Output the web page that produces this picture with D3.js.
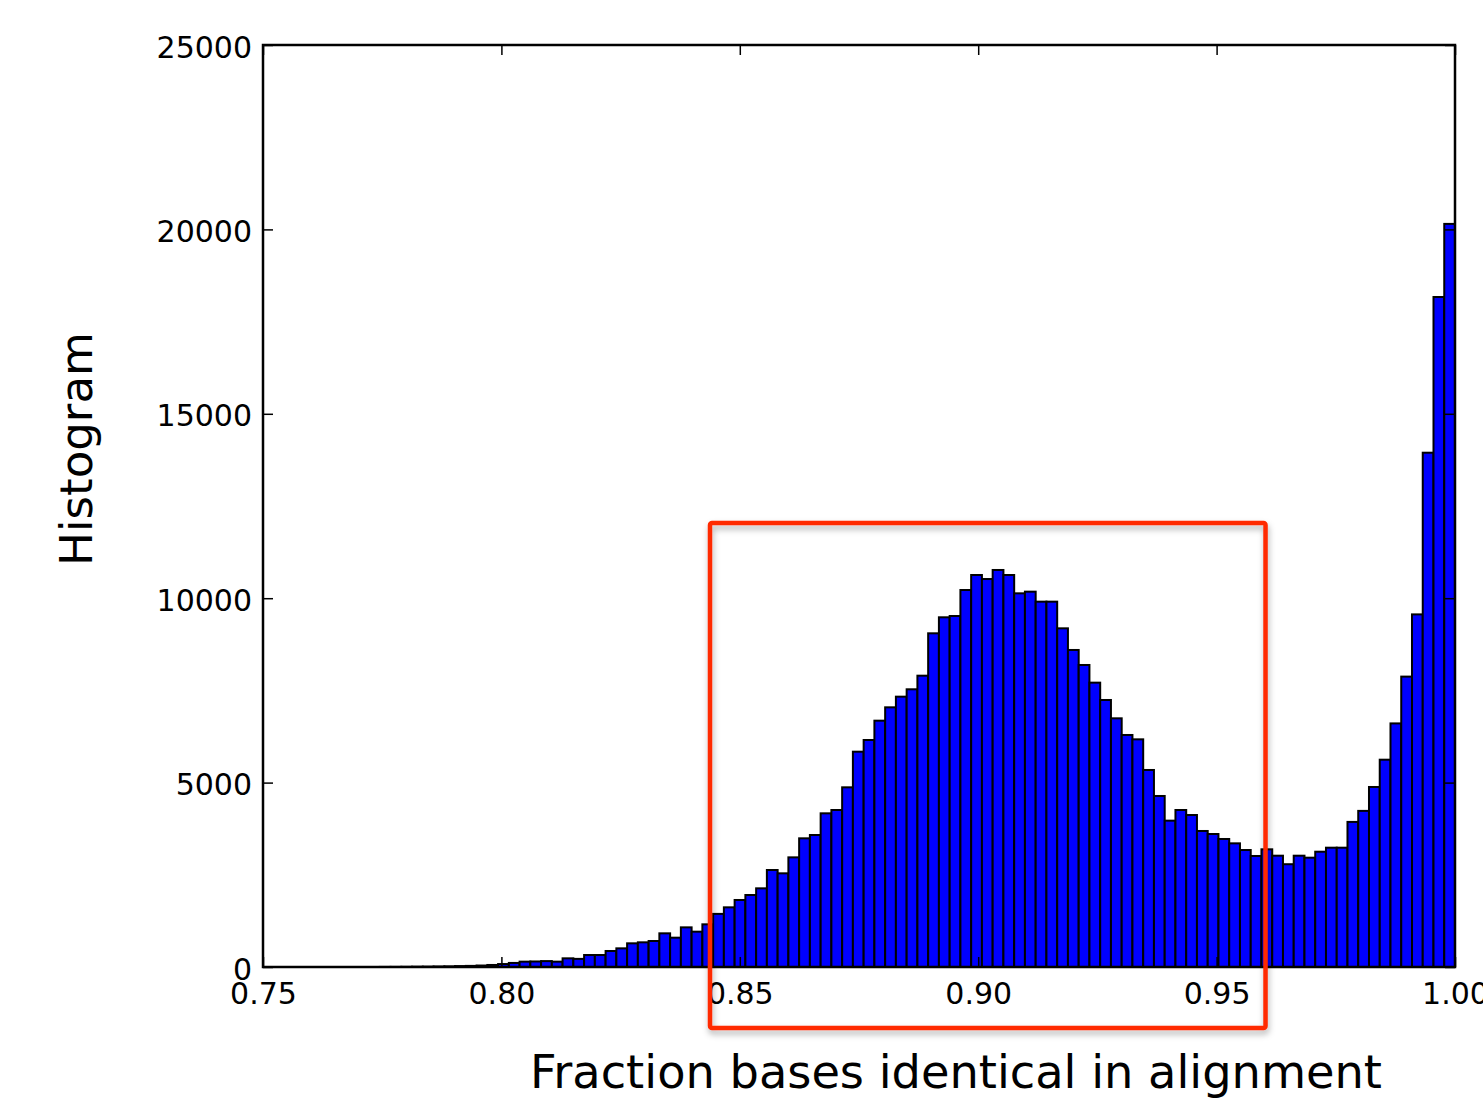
<!DOCTYPE html>
<html>
<head>
<meta charset="utf-8">
<script src="https://cdn.jsdelivr.net/npm/d3@7"></script>
<style>
  body { margin: 0; background: #fff; }
  .tick text { font-family: "DejaVu Sans", sans-serif; font-size: 30px; fill: #000; }
  .axis-label { font-family: "DejaVu Sans", sans-serif; font-size: 46px; fill: #000; }
</style>
</head>
<body>
<div id="chart"></div>
<script>
// histogram counts, 100 equal bins between binRange[0] and binRange[1]
const binRange = [0.7745, 1.0];
const counts = [
  2, 3, 5, 8, 10, 14, 18, 25, 30, 40,
  55, 80, 110, 145, 150, 160, 145, 235, 220, 325,
  325, 434, 506, 642, 669, 705, 913, 795, 1075, 958,
  1157, 1440, 1618, 1817, 1952, 2133, 2630, 2540, 2973, 3489,
  3579, 4167, 4257, 4872, 5838, 6155, 6679, 7041, 7330, 7530,
  7899, 9048, 9482, 9517, 10222, 10629, 10520, 10765, 10629, 10132,
  10177, 9906, 9906, 9183, 8596, 8189, 7710, 7240, 6743, 6291,
  6173, 5342, 4637, 3968, 4257, 4121, 3688, 3606, 3471, 3353,
  3172, 3010, 3191, 3018, 2787, 3018, 2964, 3126, 3235, 3235,
  3934, 4233, 4881, 5621, 6605, 7874, 9561, 13945, 18167, 20149
];
const xTicks = [0.75, 0.80, 0.85, 0.90, 0.95, 1.00];
const xTickLabels = ["0.75", "0.80", "0.85", "0.90", "0.95", "1.00"];
const yTicks = [0, 5000, 10000, 15000, 20000, 25000];
const yTickLabels = ["0", "5000", "10000", "15000", "20000", "25000"];
// highlighted region (red box), in data units
const highlightX = [0.84375, 0.96026];
const highlightY = [-1654, 12040];

const width = 1483,
  height = 1105,
  margin = { top: 45, right: 28, bottom: 138, left: 263 };

const svg = d3.select("#chart")
  .append("svg")
  .attr("width", width)
  .attr("height", height)
  .attr("viewBox", [0, 0, width, height]);

svg.append("rect").attr("width", width).attr("height", height).attr("fill", "#fff");

const x = d3.scaleLinear([0.75, 1.0], [margin.left, width - margin.right]);
const y = d3.scaleLinear([0, 25000], [height - margin.bottom, margin.top]);

const binW = (binRange[1] - binRange[0]) / counts.length;
const bins = counts.map((c, i) => ({ x0: binRange[0] + i * binW, x1: binRange[0] + (i + 1) * binW, n: c }));

svg.append("g")
  .selectAll("rect")
  .data(bins)
  .join("rect")
  .attr("x", d => x(d.x0))
  .attr("y", d => y(d.n))
  .attr("width", d => x(d.x1) - x(d.x0))
  .attr("height", d => y(0) - y(d.n))
  .attr("fill", "#0000ff")
  .attr("stroke", "#000")
  .attr("stroke-width", 2);

// axes, ticks point inward on all four sides
const fmtX = d => xTickLabels[xTicks.indexOf(d)];
const fmtY = d => yTickLabels[yTicks.indexOf(d)];

const bottom = svg.append("g")
  .attr("transform", `translate(0,${y(0)})`)
  .call(d3.axisBottom(x).tickValues(xTicks).tickFormat(fmtX).tickSize(-10).tickSizeOuter(0).tickPadding(14));

const left = svg.append("g")
  .attr("transform", `translate(${x(0.75)},0)`)
  .call(d3.axisLeft(y).tickValues(yTicks).tickFormat(fmtY).tickSize(-10).tickSizeOuter(0).tickPadding(11));

svg.append("g")
  .attr("transform", `translate(0,${y(25000)})`)
  .call(d3.axisTop(x).tickValues(xTicks).tickFormat("").tickSize(-10).tickSizeOuter(0));

svg.append("g")
  .attr("transform", `translate(${x(1.0)},0)`)
  .call(d3.axisRight(y).tickValues(yTicks).tickFormat("").tickSize(-10).tickSizeOuter(0));

svg.selectAll(".domain").remove();
svg.selectAll(".tick line").attr("stroke", "#000").attr("stroke-width", 1.5);
bottom.selectAll(".tick text").attr("dy", "0.75em");
left.selectAll(".tick text").attr("dy", "0.4em");

// frame
svg.append("rect")
  .attr("x", x(0.75))
  .attr("y", y(25000))
  .attr("width", x(1.0) - x(0.75))
  .attr("height", y(0) - y(25000))
  .attr("fill", "none")
  .attr("stroke", "#000")
  .attr("stroke-width", 2.5);

// axis labels
svg.append("text")
  .attr("class", "axis-label")
  .attr("text-anchor", "middle")
  .attr("x", 956)
  .attr("y", 1088)
  .attr("textLength", 852)
  .attr("lengthAdjust", "spacingAndGlyphs")
  .text("Fraction bases identical in alignment");

svg.append("text")
  .attr("class", "axis-label")
  .attr("text-anchor", "middle")
  .attr("transform", "translate(92,449) rotate(-90)")
  .style("font-size", "45px")
  .attr("textLength", 234)
  .attr("lengthAdjust", "spacingAndGlyphs")
  .text("Histogram");

// red highlight box with a soft shadow
const defs = svg.append("defs");
defs.append("filter")
  .attr("id", "shadow")
  .attr("x", "-10%").attr("y", "-10%").attr("width", "120%").attr("height", "120%")
  .append("feDropShadow")
  .attr("dx", 1).attr("dy", 4)
  .attr("stdDeviation", 3)
  .attr("flood-color", "#000")
  .attr("flood-opacity", 0.3);

svg.append("rect")
  .attr("x", x(highlightX[0]))
  .attr("y", y(highlightY[1]))
  .attr("width", x(highlightX[1]) - x(highlightX[0]))
  .attr("height", y(highlightY[0]) - y(highlightY[1]))
  .attr("rx", 2)
  .attr("fill", "none")
  .attr("stroke", "#ff2a00")
  .attr("stroke-width", 4.5)
  .attr("filter", "url(#shadow)");
</script>
</body>
</html>
